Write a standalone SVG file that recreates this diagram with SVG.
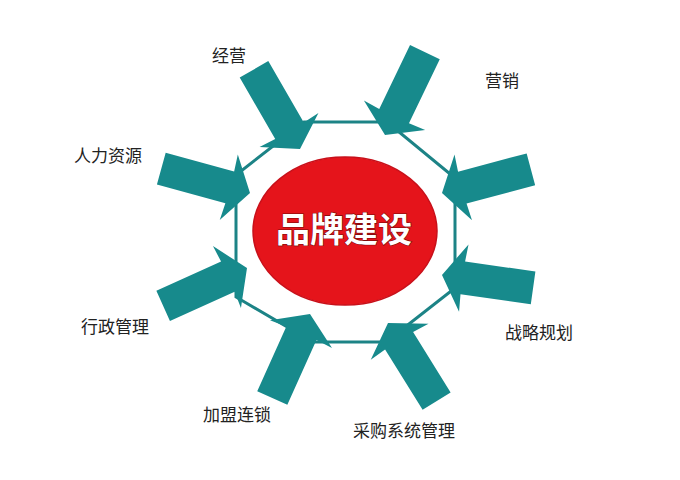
<svg xmlns="http://www.w3.org/2000/svg" xmlns:xlink="http://www.w3.org/1999/xlink" width="680" height="480" viewBox="0 0 680 480">
<style>
.lbl{font-family:"Noto Sans CJK SC","Noto Sans",sans-serif;font-size:17px;fill:#222;text-anchor:middle}
.arw{fill:#178a8c}
.oct{fill:none;stroke:#1c8386;stroke-width:3;stroke-linejoin:miter}
.hubtxt{font-family:"Noto Sans CJK SC","Noto Sans",sans-serif;font-size:34px;font-weight:bold;fill:#fff;text-anchor:middle;stroke:#7a0a0a;stroke-width:1.2;paint-order:stroke}
</style>
<defs>
<path id="arrow" d="M0,0 L-22,-34 L-21,-16.5 L-92,-16.5 L-92,16.5 L-21,16.5 L-22,34 Z"/>
</defs>
<rect width="680" height="480" fill="#fff"/>
<g id="octagon">
<polygon class="oct" points="304,122 387,122 455,178 455,288 386,342 313,342 236,297 236,175"/>
</g>
<g id="hub">
<ellipse cx="345" cy="231" rx="92" ry="74" fill="#e5141b" stroke="#c8101a" stroke-width="1.5"/>
<text class="hubtxt" x="344" y="242">品牌建设</text>
</g>
<g id="connectors">
<use xlink:href="#arrow" class="arw" transform="translate(300,149) rotate(60)"/>
<use xlink:href="#arrow" class="arw" transform="translate(385,135) rotate(115.7)"/>
<use xlink:href="#arrow" class="arw" transform="translate(250,193) rotate(15.4)"/>
<use xlink:href="#arrow" class="arw" transform="translate(247,268) rotate(-24.3)"/>
<use xlink:href="#arrow" class="arw" transform="translate(442,275) rotate(188)"/>
<use xlink:href="#arrow" class="arw" transform="translate(442,193) rotate(165.1)"/>
<use xlink:href="#arrow" class="arw" transform="translate(310,314) rotate(-65.8)"/>
<use xlink:href="#arrow" class="arw" transform="translate(388,323) rotate(-121.9)"/>
</g>
<g id="label-jingying"><text class="lbl" x="229" y="62">经营</text></g>
<g id="label-yingxiao"><text class="lbl" x="502" y="87">营销</text></g>
<g id="label-renli"><text class="lbl" x="108" y="162">人力资源</text></g>
<g id="label-xingzheng"><text class="lbl" x="115" y="333">行政管理</text></g>
<g id="label-zhanlue"><text class="lbl" x="539" y="339">战略规划</text></g>
<g id="label-jiameng"><text class="lbl" x="237" y="421">加盟连锁</text></g>
<g id="label-caigou"><text class="lbl" x="404" y="437">采购系统管理</text></g>
</svg>
